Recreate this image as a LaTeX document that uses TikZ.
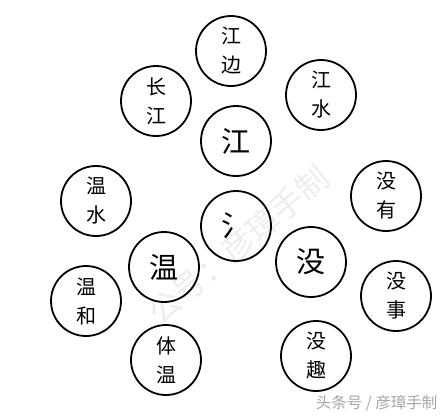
\documentclass[tikz,border=0pt]{standalone}
\usepackage{fontspec}
\newfontfamily\cjk{Noto Sans CJK SC}
\begin{document}
\begin{tikzpicture}[x=1pt,y=-1pt,
  ring/.style={circle,draw=black,line width=1.8pt,minimum size=70pt,inner sep=0pt},
  two/.style={ring,font=\cjk\fontsize{20}{29}\selectfont,align=center},
  one/.style={ring,font=\cjk\fontsize{29}{30}\selectfont},
  wm/.style={font=\cjk\fontsize{15.5}{16}\selectfont,text=black!35},
  faint/.style={font=\cjk\fontsize{32}{34}\selectfont,text=black!7}]
\useasboundingbox (0,0) rectangle (448,416);
\node[faint,rotate=40] (wmk) at (238,245) {公号：彦璋手制};
\node[two] (jiangbian) at (231,51) {江\\边};
\node[two] (changjiang) at (156,101) {长\\江};
\node[two] (jiangshui) at (321,95) {江\\水};
\node[one] (jiang) at (236,141) {江};
\node[two] (wenshui) at (96,201) {温\\水};
\node[two] (meiyou) at (386,196) {没\\有};
\node[one] (shui) at (236,226) {氵};
\node[one] (mei) at (311,262) {没};
\node[one] (wen) at (164,267) {温};
\node[two] (wenhe) at (86,301) {温\\和};
\node[two] (meishi) at (396,296) {没\\事};
\node[two] (tiwen) at (166,360) {体\\温};
\node[two] (meiqu) at (316,356) {没\\趣};
\node[wm,anchor=east] (credit) at (441,403) {头条号 / 彦璋手制};
\end{tikzpicture}
\end{document}
